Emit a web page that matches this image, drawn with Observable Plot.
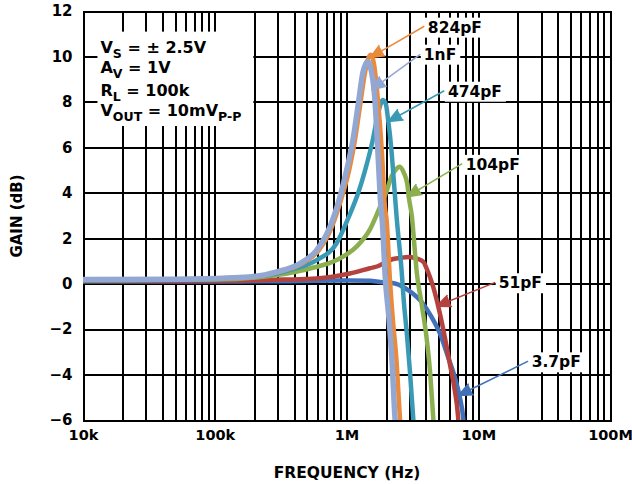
<!DOCTYPE html>
<html><head><meta charset="utf-8">
<script src="https://cdn.jsdelivr.net/npm/d3@7"></script>
<script src="https://cdn.jsdelivr.net/npm/@observablehq/plot@0.6"></script>
<style>body{margin:0;background:#fff}</style>
</head><body><div id="chart"></div>
<script>
// ---- axis data ----
const freqTicks = [1e4, 1e5, 1e6, 1e7, 1e8];
const freqTickLabels = ["10k", "100k", "1M", "10M", "100M"];
const gainTicks = [-6, -4, -2, 0, 2, 4, 6, 8, 10, 12];
const decadeStarts = [1e4, 1e5, 1e6, 1e7];
const gridMultipliers = [1, 2, 3, 4, 5, 6, 7, 8, 9];

// ---- series (frequency in Hz, gain in dB) ----
const seriesNames = ["3.7pF", "51pF", "104pF", "474pF", "824pF", "1nF"];
const seriesColors = ["#4171B8", "#B4423F", "#8BAF4F", "#3A9AB5", "#EA8A3C", "#93A7D3"];

const freq_3p7pF = [1e4, 1e5, 3e5, 8.85e5, 1.49e6, 1.78e6, 2.31e6, 2.91e6, 3.68e6, 4.38e6, 5.07e6, 5.85e6, 6.58e6, 7.18e6, 7.61e6, 7.8e6];
const gain_3p7pF = [0.12, 0.12, 0.13, 0.16, 0.15, 0.1, 0.03, -0.26, -0.78, -1.44, -2.17, -3.21, -4.09, -4.97, -5.85, -6.6];

const freq_51pF = [1e4, 1e5, 3.27e5, 5.89e5, 1.05e6, 1.49e6, 1.73e6, 1.89e6, 2.12e6, 2.5e6, 3.0e6, 3.4e6, 3.8e6, 4.0e6, 4.26e6, 4.51e6, 5.07e6, 5.52e6, 6.03e6, 6.58e6, 6.97e6, 7.1e6];
const gain_51pF = [0.15, 0.15, 0.2, 0.25, 0.47, 0.7, 0.8, 0.91, 1.06, 1.15, 1.2, 1.12, 0.98, 0.72, 0.32, -0.12, -1.29, -2.32, -3.5, -4.68, -5.85, -6.6];

const freq_104pF = [1e4, 1e5, 2.93e5, 5.25e5, 8.34e5, 1.18e6, 1.49e6, 1.75e6, 2.0e6, 2.18e6, 2.35e6, 2.52e6, 2.7e6, 2.87e6, 2.95e6, 3.11e6, 3.27e6, 3.37e6, 3.68e6, 4.01e6, 4.26e6, 4.51e6, 4.6e6];
const gain_104pF = [0.17, 0.2, 0.4, 0.69, 1.06, 1.65, 2.4, 3.3, 4.1, 4.75, 5.05, 5.17, 4.9, 4.4, 3.8, 2.97, 1.5, 0.62, -0.85, -2.32, -3.79, -5.85, -6.6];

const freq_474pF = [1e4, 5e4, 1.84e5, 3.7e5, 5.89e5, 8.34e5, 1.03e6, 1.23e6, 1.37e6, 1.57e6, 1.72e6, 1.874e6, 1.975e6, 2.045e6, 2.174e6, 2.291e6, 2.379e6, 2.597e6, 2.703e6, 2.848e6, 3.0e6, 3.178e6, 3.25e6];
const gain_474pF = [0.2, 0.22, 0.32, 0.62, 1.06, 1.8, 2.95, 4.1, 5.0, 6.35, 7.5, 8.1, 7.9, 7.3, 5.9, 4.2, 2.97, 0.6, -0.8, -2.2, -3.8, -5.85, -6.6];

const freq_824pF = [1e4, 5e4, 1.9e5, 3.05e5, 4.56e5, 6.13e5, 7.69e5, 9.16e5, 1.04e6, 1.15e6, 1.26e6, 1.37e6, 1.45e6, 1.52e6, 1.601e6, 1.717e6, 1.841e6, 1.94e6, 2.0e6, 2.118e6, 2.232e6, 2.371e6, 2.52e6, 2.57e6];
const gain_824pF = [0.2, 0.22, 0.32, 0.54, 0.91, 1.5, 2.53, 3.85, 5.03, 6.35, 7.9, 9.31, 9.95, 10.1, 9.7, 8.1, 5.8, 3.4, 2.8, 0.2, -1.6, -3.3, -5.85, -6.6];

const freq_1nF = [1e4, 5e4, 1.84e5, 2.93e5, 4.4e5, 5.89e5, 7.43e5, 8.85e5, 9.95e5, 1.11e6, 1.22e6, 1.32e6, 1.39e6, 1.443e6, 1.5e6, 1.63e6, 1.717e6, 1.809e6, 1.851e6, 1.957e6, 2.081e6, 2.193e6, 2.311e6, 2.36e6];
const gain_1nF = [0.2, 0.22, 0.32, 0.54, 0.91, 1.5, 2.53, 3.85, 5.03, 6.35, 7.95, 9.31, 9.7, 9.8, 9.6, 8.1, 5.8, 3.4, 2.8, 0.2, -1.5, -3.3, -5.85, -6.6];

const seriesFreqs = [freq_3p7pF, freq_51pF, freq_104pF, freq_474pF, freq_824pF, freq_1nF];
const seriesGains = [gain_3p7pF, gain_51pF, gain_104pF, gain_474pF, gain_824pF, gain_1nF];

// ---- callouts (label position, arrow tail, arrow tip) ----
const calloutNames = ["824pF", "1nF", "474pF", "104pF", "51pF", "3.7pF"];
const calloutSeries = [4, 5, 3, 2, 1, 0];
const calloutFreq = [4.108e6, 3.83e6, 5.83e6, 7.97e6, 14.17e6, 25.2e6];
const calloutGain = [11.07, 9.88, 8.25, 5.03, -0.18, -3.66];
const tailFreq = [3.83e6, 3.57e6, 5.43e6, 7.43e6, 13.2e6, 23.5e6];
const tailGain = [11.34, 10.1, 8.5, 5.29, 0.07, -3.4];
const tipFreq = [1.494e6, 1.538e6, 2.056e6, 2.863e6, 4.78e6, 7.0e6];
const tipGain = [9.97, 8.56, 7.16, 3.85, -0.97, -4.9];

// ---- conditions box ----
const infoLines = ["V_{S} = ± 2.5V", "A_{V} = 1V", "R_{L} = 100k", "V_{OUT} = 10mV_{P-P}"];
const infoFreq = [13.45e3, 13.45e3, 13.45e3, 13.45e3];
const infoGain = [10.19, 9.3, 8.3, 7.4];

const xTitle = "FREQUENCY (Hz)";
const yTitle = "GAIN (dB)";

const gridFreqs = decadeStarts.flatMap(d => gridMultipliers.map(m => d * m)).concat([1e8]);

const lineMarks = seriesNames.map((name, s) =>
  Plot.line(seriesFreqs[s].map((f, i) => ({f, g: seriesGains[s][i]})), {
    x: "f", y: "g", stroke: seriesColors[s],
    strokeWidth: s === 5 ? 5.5 : 4.5, curve: "monotone-x", clip: true
  })
);

const arrowMarks = calloutNames.map((name, k) =>
  Plot.arrow([k], {
    x1: () => tailFreq[k], y1: () => tailGain[k],
    x2: () => tipFreq[k], y2: () => tipGain[k],
    stroke: seriesColors[calloutSeries[k]], fill: seriesColors[calloutSeries[k]],
    strokeWidth: 1.5, headLength: 15, headAngle: 46
  })
);

const chart = Plot.plot({
  width: 632, height: 484,
  marginLeft: 83, marginRight: 22, marginTop: 11, marginBottom: 64,
  style: {fontFamily: "'DejaVu Sans', sans-serif", fontSize: "15px", fontWeight: "bold", color: "black", background: "white"},
  x: {type: "log", domain: [1e4, 1e8]},
  y: {domain: [-6, 12]},
  marks: [
    Plot.ruleX(gridFreqs, {stroke: "black", strokeWidth: 2, shapeRendering: "crispEdges"}),
    Plot.ruleY(gainTicks, {stroke: "black", strokeWidth: 2, shapeRendering: "crispEdges"}),
    Plot.frame({stroke: "black", strokeWidth: 2, shapeRendering: "crispEdges"}),
    Plot.axisX({ticks: freqTicks, tickFormat: d => freqTickLabels[freqTicks.indexOf(d)], tickSize: 0, tickPadding: 9,
      fontSize: 14.5, label: null}),
    Plot.text([xTitle], {frameAnchor: "bottom", dy: 57, lineAnchor: "bottom", text: d => d, fontSize: 15.5, fill: "black"}),
    Plot.axisY({ticks: gainTicks, tickSize: 0, tickPadding: 11, fontSize: 15,
      label: yTitle, labelAnchor: "center", labelOffset: 72, labelArrow: "none"}),
    ...lineMarks,
    ...arrowMarks,
    Plot.text(calloutNames, {x: (d, i) => calloutFreq[i], y: (d, i) => calloutGain[i], text: d => d,
      textAnchor: "start", lineAnchor: "bottom", fontSize: 15.5, fill: "black"}),
    Plot.text(infoLines, {x: (d, i) => infoFreq[i], y: (d, i) => infoGain[i], text: d => d,
      textAnchor: "start", lineAnchor: "bottom", fontSize: 16, fill: "black"})
  ]
});

document.getElementById("chart").append(chart);

// ---- post-processing: subscripts and white label boxes ----
const svg = chart.tagName.toLowerCase() === "svg" ? chart : chart.querySelector("svg");
const NS = "http://www.w3.org/2000/svg";
const allTexts = [...svg.querySelectorAll("text")];
const infoTexts = allTexts.filter(t => infoLines.includes(t.textContent));
const labelTexts = allTexts.filter(t => calloutNames.includes(t.textContent));

function applySubscripts(el) {
  const s = el.textContent;
  el.textContent = "";
  let shifted = false;
  for (const p of s.split(/(_\{[^}]*\})/)) {
    if (!p) continue;
    const t = document.createElementNS(NS, "tspan");
    if (p.startsWith("_{")) {
      t.textContent = p.slice(2, -1);
      t.setAttribute("font-size", "12.5");
      t.setAttribute("dy", shifted ? "0" : "5");
      shifted = true;
    } else {
      t.textContent = p;
      if (shifted) { t.setAttribute("dy", "-5"); shifted = false; }
    }
    el.appendChild(t);
  }
}
infoTexts.forEach(applySubscripts);

const sr = svg.getBoundingClientRect();
function box(el) {
  const r = el.getBoundingClientRect();
  return {x0: r.left - sr.left, y0: r.top - sr.top, x1: r.right - sr.left, y1: r.bottom - sr.top};
}
function insertRects(beforeNode, rects) {
  const g = document.createElementNS(NS, "g");
  for (const b of rects) {
    const r = document.createElementNS(NS, "rect");
    r.setAttribute("x", b.x0); r.setAttribute("y", b.y0);
    r.setAttribute("width", b.x1 - b.x0); r.setAttribute("height", b.y1 - b.y0);
    r.setAttribute("fill", "white");
    g.appendChild(r);
  }
  beforeNode.parentNode.insertBefore(g, beforeNode);
}
if (infoTexts.length) {
  const bs = infoTexts.map(box);
  const u = {x0: d3.min(bs, b => b.x0) - 3, y0: d3.min(bs, b => b.y0) - 6, x1: d3.max(bs, b => b.x1) + 12, y1: d3.max(bs, b => b.y1) + 2};
  insertRects(infoTexts[0].parentNode, [u]);
}
if (labelTexts.length) {
  const bs = labelTexts.map(box).map(b => ({x0: b.x0 - 3, y0: b.y0 - 1, x1: b.x1 + 4, y1: b.y1 + 1}));
  insertRects(labelTexts[0].parentNode, bs);
}
</script>
</body></html>
